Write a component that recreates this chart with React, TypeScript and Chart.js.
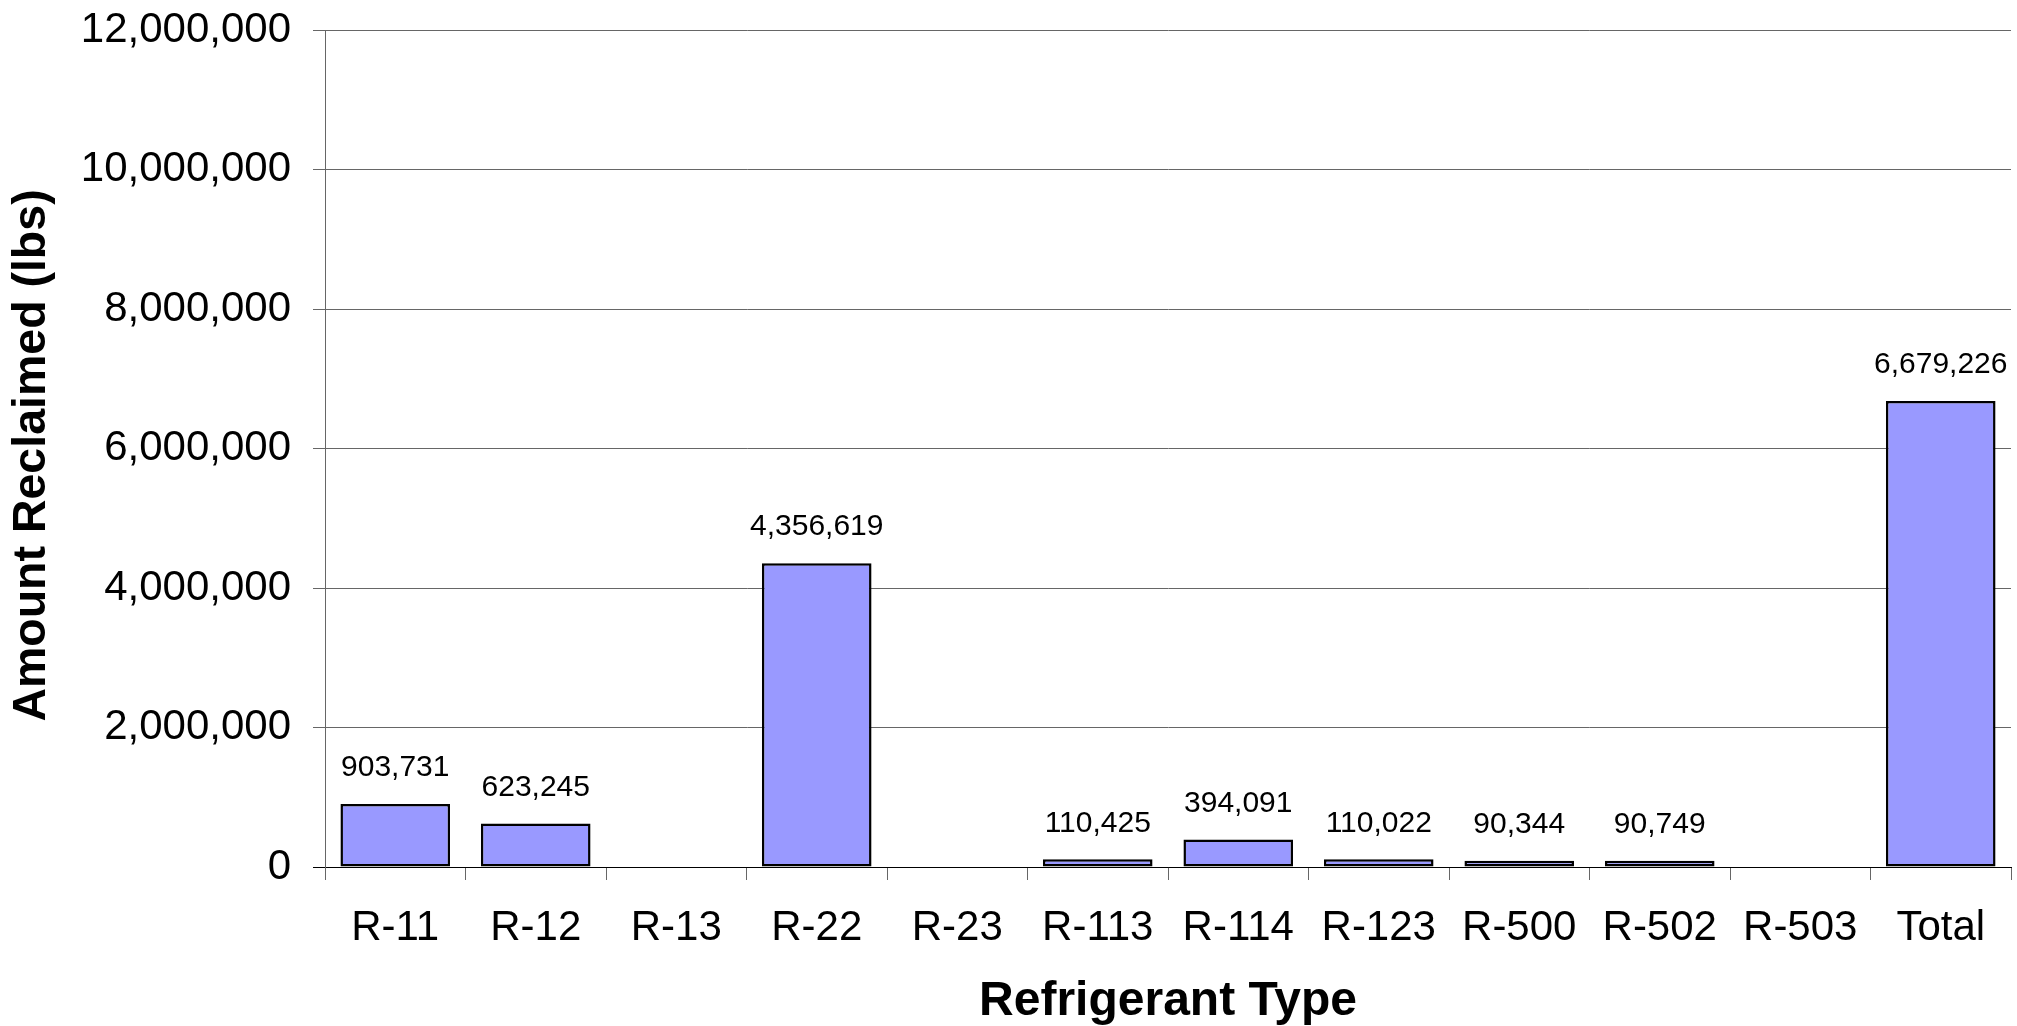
import React, { useEffect, useRef } from "react";
import { Chart, registerables } from "chart.js";

Chart.register(...registerables);

const categories = ["R-11", "R-12", "R-13", "R-22", "R-23", "R-113", "R-114", "R-123", "R-500", "R-502", "R-503", "Total"];
const amounts: (number | null)[] = [903731, 623245, null, 4356619, null, 110425, 394091, 110022, 90344, 90749, null, 6679226];
const yTicks = [0, 2000000, 4000000, 6000000, 8000000, 10000000, 12000000];
const yTitle = "Amount Reclaimed (lbs)";
const xTitle = "Refrigerant Type";

const FONT = "'Liberation Sans', Arial, Helvetica, sans-serif";
const fmt = (v: number) => v.toLocaleString("en-US");

const valueLabels = {
  id: "valueLabels",
  afterDatasetsDraw(chart: any) {
    const ctx = chart.ctx;
    const meta = chart.getDatasetMeta(0);
    ctx.save();
    ctx.font = `30px ${FONT}`;
    ctx.fillStyle = "#000";
    ctx.textAlign = "center";
    ctx.textBaseline = "middle";
    meta.data.forEach((bar: any, i: number) => {
      const v = amounts[i];
      if (v == null) return;
      ctx.fillText(fmt(v), bar.x, bar.y - 36);
    });
    ctx.restore();
  },
};

const yTitlePlugin = {
  id: "yTitlePlugin",
  afterDraw(chart: any) {
    const ctx = chart.ctx;
    const area = chart.chartArea;
    ctx.save();
    ctx.font = `bold 46.5px ${FONT}`;
    ctx.fillStyle = "#000";
    ctx.textAlign = "center";
    ctx.textBaseline = "middle";
    ctx.translate(32, (area.top + area.bottom) / 2 + 7);
    ctx.rotate(-Math.PI / 2);
    ctx.fillText(yTitle, 0, 0);
    ctx.restore();
  },
};

export default function App() {
  const ref = useRef<HTMLCanvasElement | null>(null);
  useEffect(() => {
    if (!ref.current) return;
    const chart = new Chart(ref.current, {
      type: "bar",
      data: {
        labels: categories,
        datasets: [
          {
            data: amounts,
            backgroundColor: "#9999FF",
            borderColor: "#000000",
            borderWidth: 2.5,
            borderSkipped: false,
            barPercentage: 0.78,
            categoryPercentage: 1,
          },
        ],
      },
      options: {
        responsive: false,
        animation: false,
        layout: { padding: { top: 30, right: 6, left: 0, bottom: 0 } },
        plugins: {
          legend: { display: false },
          tooltip: { enabled: false },
        },
        scales: {
          x: {
            afterFit: (s: any) => {
              s.height = 159;
            },
            grid: {
              offset: true,
              drawOnChartArea: false,
              drawTicks: true,
              tickLength: 13,
              color: "#666666",
              lineWidth: 1,
            },
            border: { display: true, color: "#000000", width: 1 },
            ticks: {
              color: "#000",
              font: { family: FONT, size: 42 },
              padding: 23,
              maxRotation: 0,
              autoSkip: false,
            },
            title: {
              display: true,
              text: xTitle,
              color: "#000",
              font: { family: FONT, size: 48, weight: "bold", lineHeight: 1.0 },
              padding: { top: 0, bottom: 0 },
            },
          },
          y: {
            min: 0,
            max: 12000000,
            afterFit: (s: any) => {
              s.width = 325;
              s.paddingTop = 0;
              s.paddingBottom = 0;
            },
            afterBuildTicks: (s: any) => {
              s.ticks = yTicks.map((v) => ({ value: v }));
            },
            grid: {
              color: (c: any) => (c.tick && c.tick.value === 0 ? "#000000" : "#666666"),
              lineWidth: 1,
              tickLength: 12,
              drawTicks: true,
            },
            border: { display: true, color: "#666666", width: 1 },
            ticks: {
              color: "#000",
              font: { family: FONT, size: 42 },
              padding: 22,
              callback: (v: any) => fmt(Number(v)),
            },
            title: { display: false },
          },
        },
      },
      plugins: [valueLabels, yTitlePlugin],
    });
    return () => chart.destroy();
  }, []);
  return (
    <div style={{ position: "absolute", left: 0, top: 0, width: 2017, height: 1026, background: "#fff" }}>
      <canvas ref={ref} width={2017} height={1026} style={{ width: 2017, height: 1026, display: "block" }} />
    </div>
  );
}
